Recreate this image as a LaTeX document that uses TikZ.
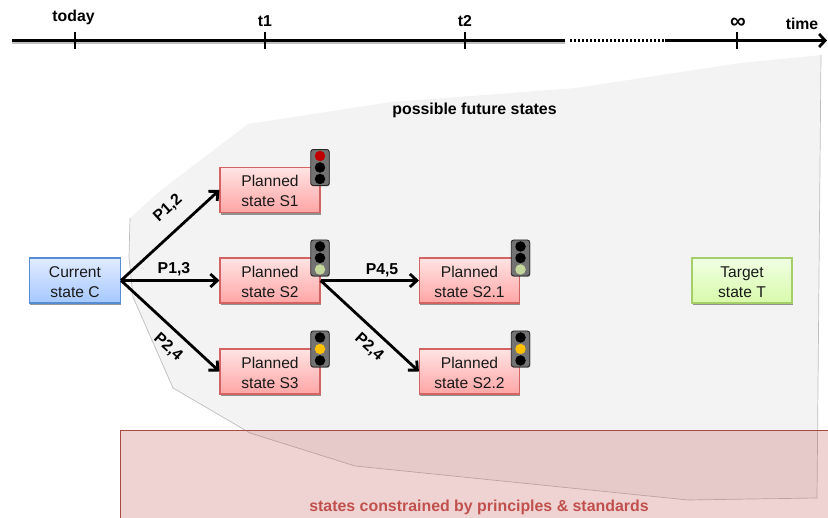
\documentclass[tikz,border=0pt]{standalone}
\usepackage{fontspec}
\setmainfont{Liberation Sans}
\usetikzlibrary{shadows,arrows.meta,fit}
\definecolor{regfill}{RGB}{243,243,243}
\definecolor{regline}{RGB}{190,190,190}
\definecolor{conred}{RGB}{192,80,77}
\definecolor{ptop}{RGB}{255,228,228}
\definecolor{pbot}{RGB}{255,165,165}
\definecolor{pline}{RGB}{212,100,100}
\definecolor{ctop}{RGB}{226,236,255}
\definecolor{cbot}{RGB}{165,200,255}
\definecolor{cline}{RGB}{85,140,210}
\definecolor{ttop}{RGB}{240,255,228}
\definecolor{tbot}{RGB}{216,250,170}
\definecolor{tline}{RGB}{165,208,105}
\newcommand{\lift}{\rule{0pt}{13.4pt}}
\tikzset{
  statebox/.style={draw=#1,line width=1.1pt,minimum width=100pt,minimum height=45pt,inner sep=0pt,
    align=center,font=\fontsize{15.6}{20}\selectfont,text=black!90,
    drop shadow={shadow xshift=0.8pt,shadow yshift=-2.2pt,opacity=0.4,fill=black}},
  planned/.style={statebox=pline,top color=ptop,bottom color=pbot},
  current/.style={statebox=cline,top color=ctop,bottom color=cbot,minimum width=91pt},
  target/.style={statebox=tline,top color=ttop,bottom color=tbot},
  lamphouse/.style={draw=black!85,fill=black!55,line width=0.9pt,rounded corners=2.5pt,minimum width=18.5pt,minimum height=36pt,inner sep=0pt,
    drop shadow={shadow xshift=0.6pt,shadow yshift=-1pt,opacity=0.3,fill=black}},
  lamp/.style={circle,fill=#1,minimum size=10.5pt,inner sep=0pt},
  flow/.style={draw=black,line width=2.8pt,-{Straight Barb[length=7pt,width=13pt,line width=2.8pt]}},
  flowlabel/.style={font=\fontsize{15.8}{18}\selectfont\bfseries,text=black},
  axisline/.style={draw=black,line width=2.8pt},
  ticklabel/.style={font=\fontsize{15.8}{18}\selectfont\bfseries,text=black},
}
\newcommand{\signal}[5]{%
  \node[lamphouse] (#1) at (#2) {};
  \node[lamp=#3] (#1a) at ([yshift=11.5pt]#1.center) {};
  \node[lamp=#4] (#1b) at (#1.center) {};
  \node[lamp=#5] (#1c) at ([yshift=-11.5pt]#1.center) {};
}
\definecolor{sigred}{RGB}{192,0,0}
\definecolor{siggreen}{RGB}{195,214,155}
\definecolor{sigamber}{RGB}{255,192,0}
\begin{document}
\begin{tikzpicture}[x=1pt,y=-1pt]
\useasboundingbox (0,0) rectangle (828,518);
\begin{scope}
\clip (0,0) rectangle (828,518);
% possible future region
\fill[regfill] (130,218) -- (160,191) -- (248,124) -- (391,102) -- (576,88) -- (740,63) -- (821,55)
  -- (817,498) -- (688,500) -- (355,466) -- (250,433) -- (173,388) -- (133,297) -- (129,257) -- cycle;
\draw[regline,line width=0.7pt] (130,218) -- (129,257) -- (133,297) -- (173,388) -- (250,433) -- (355,466) -- (688,500) -- (817,498) -- (821,55);
% constrained region
\fill[conred,fill opacity=0.25] (120.5,430.5) rectangle (840,530);
\draw[conred!90!black,line width=0.9pt] (120.5,530) -- (120.5,430.5) -- (840,430.5);
\end{scope}
\node[font=\fontsize{15.9}{18}\selectfont\bfseries,text=black] (pfs) at (474.5,110) {possible future states};
\node[font=\fontsize{15.9}{18}\selectfont\bfseries,text=conred] (csp) at (479,507) {states constrained by principles \& standards};
% timeline
\coordinate (a0) at (12,40.5);
\coordinate (a1) at (565,40.5);
\coordinate (a2) at (665,40.5);
\coordinate (a3) at (827,40.5);
\draw[black!25,line width=2.8pt] (12,42.5) -- (565,42.5);
\draw[axisline] (a0) -- (a1);
\draw[black,line width=2.8pt,dash pattern=on 2pt off 2pt] (a1)++(5,0) -- (a2);
\draw[axisline,-{Straight Barb[length=6pt,width=13pt,line width=2.8pt]}] (a2) -- (a3);
\foreach \n/\x in {today/75,t1/265,t2/465,inf/737}{
  \coordinate (\n top) at (\x,32);
  \coordinate (\n bot) at (\x,49);
  \draw[black,line width=2pt] (\n top) -- (\n bot);
}
\node[ticklabel] (ltoday) at (73.5,17) {today};
\node[ticklabel] (lt1) at (265,21) {t1};
\node[ticklabel] (lt2) at (465,21) {t2};
\node[font=\fontsize{22}{22}\selectfont\bfseries] (linf) at (738,23.5) {∞};
\node[ticklabel] (ltime) at (802,24) {time};
% states
\node[current] (c) at (75,280.5) {\lift Current\\state C};
\node[planned] (s1) at (270,190) {\lift Planned\\state S1};
\node[planned] (s2) at (270,280.5) {\lift Planned\\state S2};
\node[planned] (s3) at (270,371.5) {\lift Planned\\state S3};
\node[planned] (s21) at (469.5,280.5) {\lift Planned\\state S2.1};
\node[planned] (s22) at (469.5,371.5) {\lift Planned\\state S2.2};
\node[target] (t) at (742,280.5) {\lift Target\\state T};
% signals
\signal{l1}{320,167.5}{sigred}{black}{black}
\signal{l2}{320,258}{black}{black}{siggreen}
\signal{l3}{320,349}{black}{sigamber}{black}
\signal{l21}{520.5,258}{black}{black}{siggreen}
\signal{l22}{520.5,349}{black}{sigamber}{black}
% flows
\draw[flow] (c.east) -- (s1.west);
\draw[flow] (c.east) -- (s2.west);
\draw[flow] (c.east) -- (s3.west);
\draw[flow] (s2.east) -- (s21.west);
\draw[flow] (s2.east) -- (s22.west);
\node[flowlabel,rotate=42] (p12) at (168,208) {P1,2};
\node[flowlabel] (p13) at (174,269.5) {P1,3};
\node[flowlabel,rotate=-42] (p24a) at (168,347) {P2,4};
\node[flowlabel] (p45) at (382,270) {P4,5};
\node[flowlabel,rotate=-42] (p24b) at (369,347) {P2,4};
\end{tikzpicture}
\end{document}
